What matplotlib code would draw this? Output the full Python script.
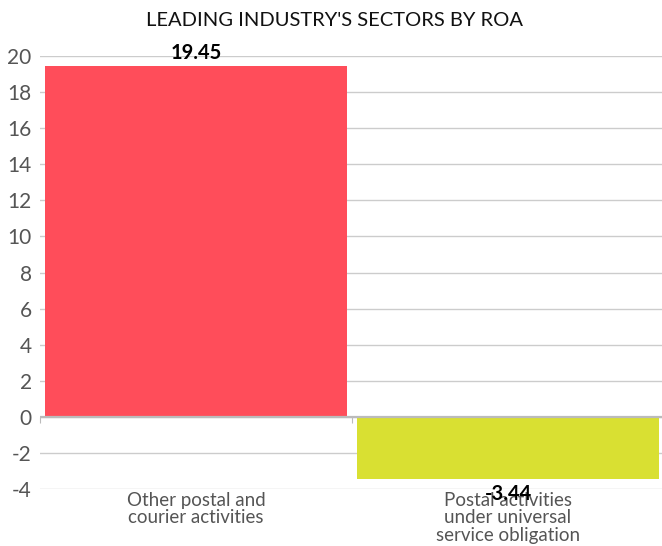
import matplotlib
matplotlib.use("Agg")
import matplotlib.pyplot as plt
from matplotlib import font_manager

categories = ["Other postal and\ncourier activities",
              "Postal activities\nunder universal\nservice obligation"]
values = [19.45, -3.44]
colors = ["#FF4D5A", "#D9E032"]
yticks = list(range(-4, 21, 2))
title = "LEADING INDUSTRY'S SECTORS BY ROA"

avail = {f.name for f in font_manager.fontManager.ttflist}
fam = [f for f in ["Liberation Sans Narrow", "Lato", "DejaVu Sans"] if f in avail]
plt.rcParams['font.family'] = fam

fig = plt.figure(figsize=(6.62, 5.46), dpi=100)
ax = fig.add_axes([40/662, 1-489/546, 1-38/662, (489-56)/546])

x = list(range(len(values)))
ax.bar(x, values, width=0.965, color=colors, zorder=3)
ax.set_xlim(-0.5, len(values)-0.5)
ax.set_ylim(-4, 20)
ax.set_yticks(yticks)
ax.set_yticklabels([str(t) for t in yticks], fontsize=15, color="#555555")
ax.tick_params(axis='y', length=0, pad=6)
ax.grid(axis='y', color="#cccccc", linewidth=1, zorder=0)
ax.set_axisbelow(True)
for s in ax.spines.values():
    s.set_visible(False)
ax.axhline(0, color="#bbbbbb", linewidth=1.6, zorder=4)

ax.set_xticks(x)
ax.set_xticklabels(categories, fontsize=13.5, color="#555555", linespacing=1.05)
ax.tick_params(axis='x', length=0, pad=2)

sec = ax.secondary_xaxis(4/24)
sec.set_xticks([-0.5 + i for i in range(len(values)+1)])
sec.set_xticklabels([])
sec.tick_params(axis='x', direction='out', length=4, color="#bbbbbb")
sec.spines['bottom'].set_visible(False)
sec.spines['top'].set_visible(False)

for xi, v in zip(x, values):
    if v >= 0:
        ax.annotate(f"{v:.2f}", (xi, v), xytext=(0, 2), textcoords='offset points',
                    ha='center', va='bottom', fontsize=14.5, fontweight='bold', zorder=6)
    else:
        ax.annotate(f"{v:.2f}", (xi, v), xytext=(0, -4), textcoords='offset points',
                    ha='center', va='top', fontsize=14.5, fontweight='bold', zorder=6)

fig.text(335/662, 1-20/546, title, ha='center', va='center', fontsize=14.5, color="#111111")

fig.savefig("out.png", dpi=100)
